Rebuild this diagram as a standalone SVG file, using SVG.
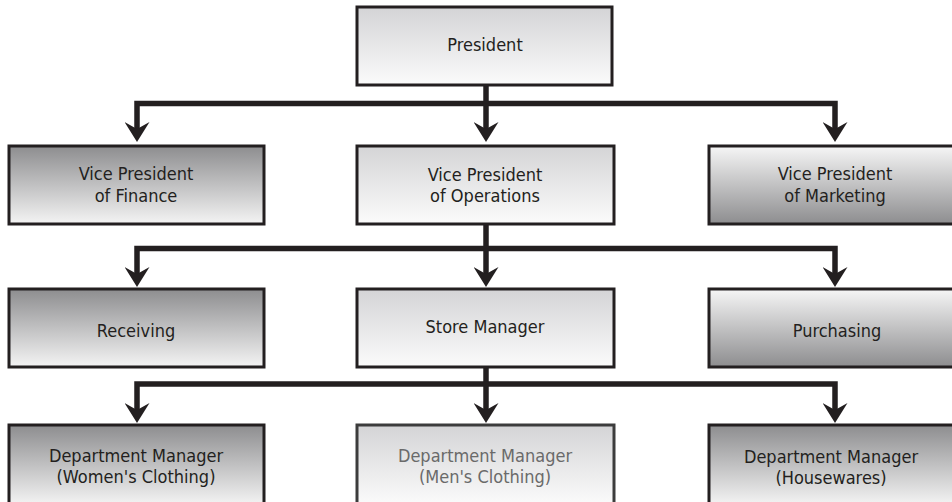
<svg xmlns="http://www.w3.org/2000/svg" width="952" height="502" viewBox="0 0 952 502">
<defs>
<linearGradient id="gDark" x1="0" y1="0" x2="0" y2="1">
<stop offset="0" stop-color="#8d8d8f"/>
<stop offset="1" stop-color="#f4f4f4"/>
</linearGradient>
<linearGradient id="gDarkRev" x1="0" y1="0" x2="0" y2="1">
<stop offset="0" stop-color="#f6f6f6"/>
<stop offset="1" stop-color="#8d8d8f"/>
</linearGradient>
<linearGradient id="gLight" x1="0" y1="0" x2="0" y2="1">
<stop offset="0" stop-color="#d4d4d6"/>
<stop offset="1" stop-color="#fbfbfb"/>
</linearGradient>
<marker id="ah" markerUnits="userSpaceOnUse" viewBox="0 0 20 25" markerWidth="20" markerHeight="25" refX="7" refY="12.5" orient="auto-start-reverse">
<path d="M0,0 L20,12.5 L0,25 L7,12.5 Z" fill="#231f20"/>
</marker>
<style>
.box{stroke:#231f20;stroke-width:3}
.dark{fill:url(#gDark)}
.rev{fill:url(#gDarkRev)}
.light{fill:url(#gLight)}
.t{font-family:"DejaVu Sans Condensed","DejaVu Sans",sans-serif;font-size:18px;fill:#231f20;text-anchor:middle}
.faint{fill:#6a6a6a}
.faintbox{stroke:#3c3c3c}
.con{fill:none;stroke:#231f20;stroke-width:5.5;stroke-linejoin:miter}
</style>
</defs>

<g id="connectors">
<path class="con" d="M486,85 V103.5"/>
<path class="con" d="M137,129 V103.5 H835 V129" marker-start="url(#ah)" marker-end="url(#ah)"/>
<path class="con" d="M486,103.5 V129" marker-end="url(#ah)"/>
<path class="con" d="M486,224 V248.5"/>
<path class="con" d="M137,274 V248.5 H835 V274" marker-start="url(#ah)" marker-end="url(#ah)"/>
<path class="con" d="M486,248.5 V274" marker-end="url(#ah)"/>
<path class="con" d="M486,367 V384"/>
<path class="con" d="M137,410 V384 H835 V410" marker-start="url(#ah)" marker-end="url(#ah)"/>
<path class="con" d="M486,384 V410" marker-end="url(#ah)"/>
</g>

<g id="president">
<rect class="box light" x="357" y="7" width="255" height="78"/>
<text class="t" x="485" y="51">President</text>
</g>

<g id="vp-finance">
<rect class="box dark" x="9" y="146" width="255" height="78"/>
<text class="t" x="136" y="180">Vice President</text>
<text class="t" x="136" y="202">of Finance</text>
</g>

<g id="vp-operations">
<rect class="box light" x="357" y="146" width="257" height="78"/>
<text class="t" x="485" y="181">Vice President</text>
<text class="t" x="485" y="202">of Operations</text>
</g>

<g id="vp-marketing">
<rect class="box rev" x="709" y="146" width="256" height="78"/>
<text class="t" x="835" y="180">Vice President</text>
<text class="t" x="835" y="202">of Marketing</text>
</g>

<g id="receiving">
<rect class="box dark" x="9" y="289" width="255" height="78"/>
<text class="t" x="136" y="337">Receiving</text>
</g>

<g id="store-manager">
<rect class="box light" x="357" y="289" width="257" height="78"/>
<text class="t" x="485" y="333">Store Manager</text>
</g>

<g id="purchasing">
<rect class="box rev" x="709" y="289" width="256" height="78"/>
<text class="t" x="837" y="337">Purchasing</text>
</g>

<g id="dm-womens">
<rect class="box dark" x="9" y="425" width="255" height="80"/>
<text class="t" x="136" y="462">Department Manager</text>
<text class="t" x="136" y="483">(Women's Clothing)</text>
</g>

<g id="dm-mens">
<rect class="box light faintbox" x="357" y="425" width="257" height="80"/>
<text class="t faint" x="485" y="462">Department Manager</text>
<text class="t faint" x="485" y="483">(Men's Clothing)</text>
</g>

<g id="dm-housewares">
<rect class="box dark" x="709" y="425" width="256" height="80"/>
<text class="t" x="831" y="463">Department Manager</text>
<text class="t" x="831" y="484">(Housewares)</text>
</g>
</svg>
